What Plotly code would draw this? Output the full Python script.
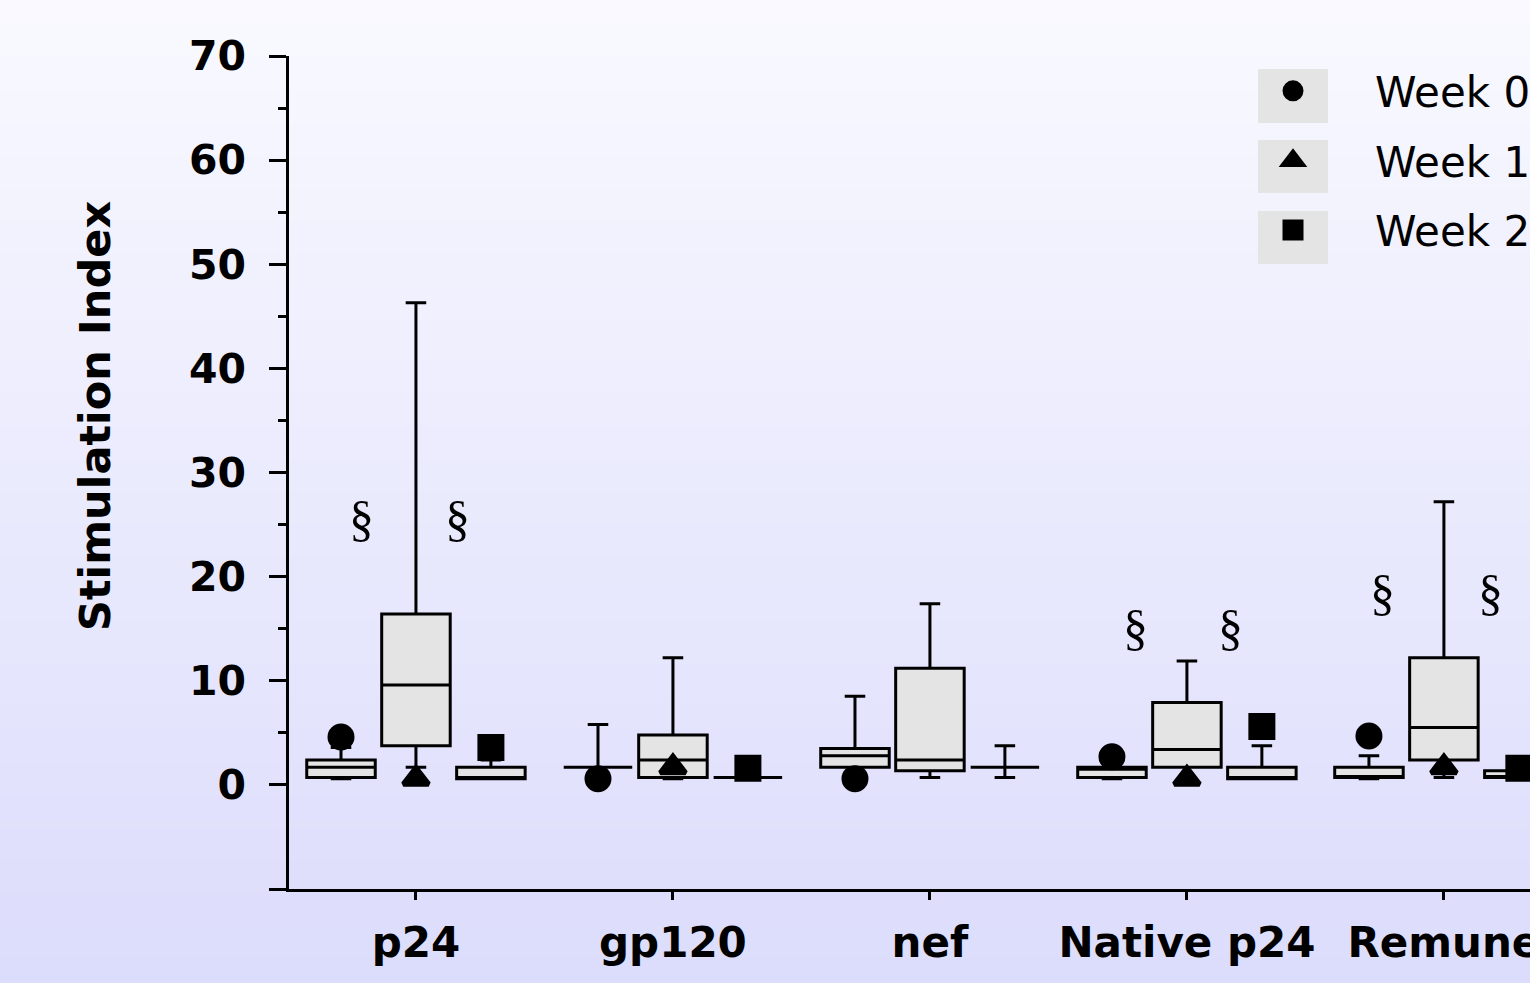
import plotly.graph_objects as go

# ---------------- data ----------------
categories = ["p24", "gp120", "nef", "Native p24", "Remune"]
week_names = ["Week 0", "Week 1", "Week 2"]

w0_q1 = [0.7, 1.7, 1.7, 0.7, 0.7]
w0_median = [1.7, 1.7, 2.8, 1.5, 0.7]
w0_q3 = [2.4, 1.7, 3.5, 1.7, 1.7]
w0_low = [0.6, 1.7, 1.7, 0.6, 0.6]
w0_high = [3.6, 5.8, 8.5, 1.7, 2.8]
w0_mean = [4.6, 0.6, 0.6, 2.7, 4.7]

w1_q1 = [3.75, 0.7, 1.35, 1.7, 2.4]
w1_median = [9.6, 2.4, 2.4, 3.4, 5.5]
w1_q3 = [16.4, 4.8, 11.2, 7.9, 12.2]
w1_low = [1.7, 0.6, 0.7, 1.7, 0.7]
w1_high = [46.3, 12.2, 17.4, 11.9, 27.2]
w1_mean = [0.6, 1.7, None, 0.6, 1.7]

w2_q1 = [0.6, 0.7, 1.7, 0.6, 0.7]
w2_median = [0.7, 0.7, 1.7, 0.7, 0.8]
w2_q3 = [1.7, 0.7, 1.7, 1.7, 1.35]
w2_low = [0.6, 0.7, 0.7, 0.6, 0.7]
w2_high = [2.4, 0.7, 3.75, 3.75, 1.35]
w2_mean = [3.6, 1.6, None, 5.6, 1.6]

# significance marks (§)
sig_category = ["p24", "p24", "Native p24", "Native p24", "Remune", "Remune"]
sig_offset = [-0.21, 0.16, -0.20, 0.17, -0.24, 0.18]
sig_y = [25.5, 25.5, 15.1, 15.1, 18.4, 18.4]

y_ticks = [-10, 0, 10, 20, 30, 40, 50, 60, 70]
y_ticktext = ["", "0", "10", "20", "30", "40", "50", "60", "70"]
y_minor = [5, 15, 25, 35, 45, 55, 65]

# ---------------- figure ----------------
W, H = 1530, 983
ML, MR, MT, MB = 289, 0, 56, 94
PW, PH = W - ML - MR, H - MT - MB

stats = [
    (w0_q1, w0_median, w0_q3, w0_low, w0_high, w0_mean, "circle", 22),
    (w1_q1, w1_median, w1_q3, w1_low, w1_high, w1_mean, "triangle-up", 22),
    (w2_q1, w2_median, w2_q3, w2_low, w2_high, w2_mean, "square", 22),
]

fig = go.Figure()
for i, (q1, med, q3, lo, hi, mean, sym, msize) in enumerate(stats):
    fig.add_trace(go.Box(
        x=categories, q1=q1, median=med, q3=q3, lowerfence=lo, upperfence=hi,
        name=week_names[i], showlegend=False, offsetgroup=str(i),
        fillcolor="#e4e4e4", line=dict(color="black", width=3),
        whiskerwidth=0.3, boxpoints=False, hoverinfo="skip",
    ))
for i, (q1, med, q3, lo, hi, mean, sym, msize) in enumerate(stats):
    fig.add_trace(go.Scatter(
        x=categories, y=mean, mode="markers", name=week_names[i],
        offsetgroup=str(i), legendgroup=week_names[i],
        marker=dict(symbol=sym, size=msize, color="black",
                    line=dict(color="black", width=5)),
        cliponaxis=False,
    ))

# gradient background as thin strips
shapes = []
n = 120
top_c = (249, 249, 255)
bot_c = (220, 220, 252)
y_lo = -MB / PH
y_hi = 1 + MT / PH
for k in range(n):
    t = k / (n - 1)
    c = tuple(round(top_c[j] + (bot_c[j] - top_c[j]) * t) for j in range(3))
    y1 = y_hi - (y_hi - y_lo) * k / n
    y0 = y_hi - (y_hi - y_lo) * (k + 1) / n - 0.002
    shapes.append(dict(type="rect", xref="paper", yref="paper",
                       x0=-ML / PW - 0.01, x1=1.01, y0=y0, y1=y1,
                       fillcolor="rgb(%d,%d,%d)" % c, line=dict(width=0),
                       layer="below"))


def px2x(px):
    return (px - ML) / PW


def py2y(py):
    return (H - MB - py) / PH


# gray legend key boxes
for (top, bot) in [(69, 123), (140, 193), (211, 264)]:
    shapes.append(dict(type="rect", xref="paper", yref="paper",
                       x0=px2x(1258), x1=px2x(1328), y0=py2y(bot), y1=py2y(top),
                       fillcolor="#e4e4e4", line=dict(width=0), layer="below"))

annotations = []
for c, off, yv in zip(sig_category, sig_offset, sig_y):
    annotations.append(dict(x=categories.index(c) + off, y=yv, xref="x", yref="y",
                            text="§", showarrow=False,
                            font=dict(family="Liberation Serif", size=50, color="black"),
                            xanchor="center", yanchor="middle"))

# y-axis title (placed like the reference, slightly above the axis centre)
annotations.append(dict(x=px2x(95), y=py2y(416), xref="paper", yref="paper",
                        text="Stimulation Index", showarrow=False, textangle=-90,
                        xanchor="center", yanchor="middle",
                        font=dict(family="DejaVu Sans", size=43, color="black",
                                  weight="bold")))

fig.update_layout(
    width=W, height=H,
    margin=dict(l=ML, r=MR, t=MT, b=MB, autoexpand=False),
    paper_bgcolor="rgb(220,220,252)",
    plot_bgcolor="rgba(0,0,0,0)",
    boxmode="group", boxgap=0.125, boxgroupgap=0.086,
    scattermode="group", scattergap=0.125,
    shapes=shapes, annotations=annotations,
    font=dict(family="DejaVu Sans", color="black"),
    showlegend=True,
    legend=dict(x=px2x(1211), y=py2y(57), xanchor="left", yanchor="top",
                bgcolor="rgba(0,0,0,0)", borderwidth=0,
                font=dict(family="DejaVu Sans", size=42, color="black"),
                itemwidth=154, traceorder="grouped", tracegroupgap=12),
    xaxis=dict(type="category", range=[-0.494, 4.335], showline=True,
               linecolor="black", linewidth=2.5, ticks="outside", ticklen=8,
               tickwidth=2.5, tickcolor="black", showgrid=False, zeroline=False,
               tickfont=dict(family="DejaVu Sans", size=42, color="black", weight="bold"),
               ticklabelstandoff=7, automargin=False, fixedrange=True),
    yaxis=dict(range=[-10, 70], showline=True, linecolor="black", linewidth=2.5,
               tickmode="array", tickvals=y_ticks, ticktext=y_ticktext,
               ticks="outside", ticklen=17, tickwidth=2.5, tickcolor="black",
               minor=dict(tickmode="array", tickvals=y_minor, ticks="outside",
                          ticklen=8, tickwidth=2.5, tickcolor="black", showgrid=False),
               showgrid=False, zeroline=False,
               tickfont=dict(family="DejaVu Sans", size=41, color="black", weight="bold"),
               ticklabelstandoff=15, automargin=False, fixedrange=True),
)

fig.write_html("out.html", config={"displayModeBar": False},
               post_script="document.body.style.margin='0';document.body.style.overflow='hidden';")
